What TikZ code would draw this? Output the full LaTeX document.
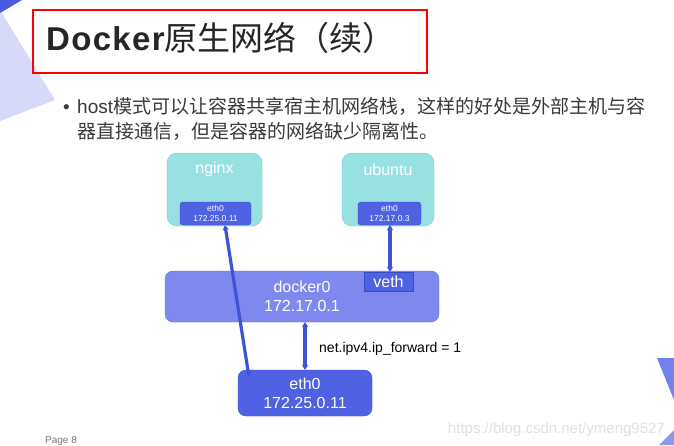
\documentclass[tikz,border=0pt]{standalone}
\usepackage{fontspec}
\setmainfont{Liberation Sans}
\newfontfamily\cjk{Noto Sans CJK SC}
\usetikzlibrary{arrows.meta}
\usetikzlibrary{positioning}

\definecolor{cyanfill}{HTML}{97E1E3}
\definecolor{cyanedge}{HTML}{72C9CD}
\definecolor{ethfill}{HTML}{4F62E3}
\definecolor{ethedge}{HTML}{3849C4}
\definecolor{dockfill}{HTML}{7F88EF}
\definecolor{dockedge}{HTML}{6A74DE}
\definecolor{linkblue}{HTML}{4052D6}
\definecolor{darktri}{HTML}{4B5BE0}
\definecolor{lighttri}{HTML}{D6DAF8}
\definecolor{righttri}{HTML}{7381EC}
\definecolor{cornertri}{HTML}{8D97EE}
\definecolor{txtgray}{HTML}{3A3A3A}

\begin{document}
\begin{tikzpicture}[x=1pt,y=-1pt]

		\tikzset{
			cbox/.style={
				draw=cyanedge,
				fill=cyanfill,
				rounded corners=10pt,
				minimum width=95pt,
				minimum height=73pt,
				inner sep=0pt
			},
			ethbox/.style={
				draw=ethedge,
				fill=ethfill,
				rounded corners=3pt,
				minimum height=23pt,
				inner sep=0pt,
				text=white,
				align=center,
				font=\fontsize{8.5}{10}\selectfont
			},
			bigbox/.style={
				draw=ethedge,
				fill=ethfill,
				rounded corners=8pt,
				inner sep=0pt,
				text=white,
				align=center,
				font=\fontsize{16}{19}\selectfont
			},
			wtext/.style={
				text=white,
				font=\fontsize{16}{19}\selectfont
			},
			link/.style={
				draw=linkblue,
				line width=3.2pt,
				{Stealth[length=5pt,width=6.5pt]}-{Stealth[length=5pt,width=6.5pt]}
			}
		}

		\useasboundingbox (0,0) rectangle (674,445);
		\fill[white] (0,0) rectangle (674,445);

		% corner decoration
		\fill[lighttri] (0,10) -- (55,100) -- (0,121) -- cycle;
		\fill[darktri] (0,0) -- (22,0) -- (0,13) -- cycle;
		\fill[righttri] (657,358) -- (674,358) -- (674,400) -- cycle;
		\fill[cornertri] (659,445) -- (674,445) -- (674,430) -- cycle;

		% title
		\draw[red, line width=1.5pt] (33,10) rectangle (427,73);
		\node[anchor=base west, inner sep=0pt, text={rgb,255:red,38;green,38;blue,38},
			font=\fontsize{33}{36}\selectfont] (title) at (46,50)
		{{\bfseries\addfontfeature{LetterSpace=4}Docker}{\cjk 原生网络（续）}};

		% bullet text
		\node[anchor=base east, inner sep=0pt, text=txtgray,
			font=\fontsize{19}{25}\selectfont] (dot) at (70,113) {•};
		\node[anchor=base west, inner sep=0pt, text=txtgray,
			font=\fontsize{19}{25}\selectfont] (line1) at (77,113)
		{host{\cjk 模式可以让容器共享宿主机网络栈，这样的好处是外部主机与容}};
		\node[anchor=base west, inner sep=0pt, text=txtgray,
			font=\fontsize{19}{25}\selectfont] (line2) at (77,138)
		{{\cjk 器直接通信，但是容器的网络缺少隔离性。}};

		% containers
		\node[cbox] (nginx) at (214.5,189.5) {};
		\node[wtext] at ([yshift=-17pt]nginx.north) {nginx};
		\node[ethbox, minimum width=71pt] (nginxeth) at (215.5,213.5) {eth0\\172.25.0.11};

		\node[cbox, minimum width=92pt] (ubuntu) at (388,189.5) {};
		\node[wtext] at ([yshift=-17pt]ubuntu.north) {ubuntu};
		\node[ethbox, minimum width=63pt] (ubuntueth) at (389.5,213.5) {eth0\\172.17.0.3};

		% bridge and host interface
		\node[bigbox, draw=dockedge, fill=dockfill, minimum width=274pt, minimum height=51pt]
			(docker) at (302,296.5) {docker0\\172.17.0.1};
		\node[bigbox, rounded corners=0pt, draw=ethedge, minimum width=49pt, minimum height=19pt]
			(veth) at (388.5,281.5) {veth};
		\node[bigbox, minimum width=134pt, minimum height=46pt]
			(hosteth) at (305,393) {eth0\\172.25.0.11};

		\draw[link] ([xshift=9.5pt]nginxeth.south) -- ([xshift=-56pt,yshift=-7pt]hosteth.north);
		\draw[link] (hosteth.north |- docker.south) -- (hosteth.north);
		\draw[link] ([xshift=0.5pt]ubuntueth.south) -- ([xshift=0.5pt]ubuntueth.south |- veth.north);

		\node[anchor=base west, inner sep=0pt, font=\fontsize{14}{16}\selectfont]
			(fwd) at (319,352) {net.ipv4.ip\_forward = 1};

		% footer
		\node[anchor=base west, inner sep=0pt, text={rgb,255:red,120;green,120;blue,120},
			font=\fontsize{10}{12}\selectfont] (page) at (45,443) {Page 8};
		\node[anchor=base east, inner sep=0pt, text={rgb,255:red,225;green,225;blue,225},
			font=\fontsize{15}{18}\selectfont] (mark) at (665,433) {https://blog.csdn.net/ymeng9527};

	\end{tikzpicture}
\end{document}
